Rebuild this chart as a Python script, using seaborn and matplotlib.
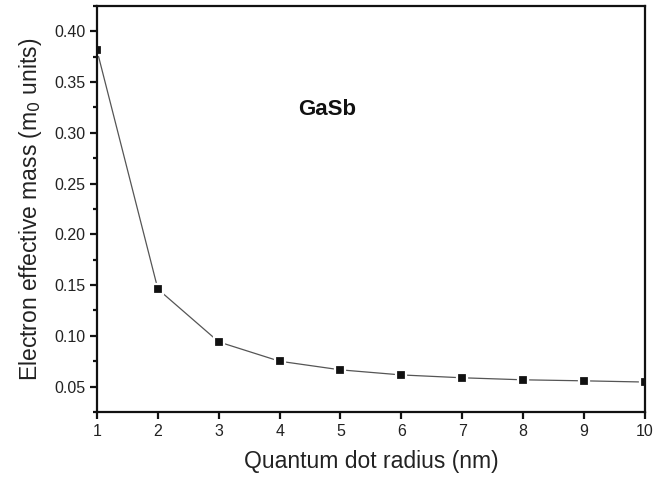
import matplotlib
matplotlib.use("Agg")
import matplotlib.pyplot as plt
import seaborn as sns
import pandas as pd
from matplotlib.ticker import MultipleLocator

radius = [1, 2, 3, 4, 5, 6, 7, 8, 9, 10]
mass = [0.381, 0.146, 0.094, 0.075, 0.0665, 0.0615, 0.0587, 0.0567, 0.0557, 0.0545]
xticks = [1, 2, 3, 4, 5, 6, 7, 8, 9, 10]
yticks = [0.05, 0.10, 0.15, 0.20, 0.25, 0.30, 0.35, 0.40]

df = pd.DataFrame({"radius": radius, "mass": mass})

sns.set_theme(style="ticks")
plt.rcParams['font.family'] = ['Liberation Sans', 'DejaVu Sans']

fig = plt.figure(figsize=(6.71, 4.83), dpi=100)
ax = fig.add_axes([0.1446, 0.147, 0.8164, 0.841])

sns.lineplot(data=df, x="radius", y="mass", ax=ax, color="#555555", linewidth=0.9,
             marker="s", markersize=6.5, markerfacecolor="#111111",
             markeredgecolor="white", markeredgewidth=1.6)

ax.set_xlim(1, 10)
ax.set_ylim(0.025, 0.425)
ax.set_xticks(xticks)
ax.set_xticklabels([str(v) for v in xticks])
ax.set_yticks(yticks)
ax.set_yticklabels([f"{v:.2f}" for v in yticks])
ax.yaxis.set_minor_locator(MultipleLocator(0.025))

for s in ax.spines.values():
    s.set_linewidth(1.6)
    s.set_color("#111111")
ax.tick_params(axis="both", which="major", direction="out", length=5, width=1.6,
               labelsize=11.5, colors="#111111", labelcolor="#222222")
ax.tick_params(axis="y", which="minor", direction="out", length=3, width=1.6, colors="#111111")
ax.tick_params(top=False, right=False)

ax.set_xlabel("Quantum dot radius (nm)", fontsize=16.5, color="#222222", labelpad=8)
ax.set_ylabel(r"Electron effective mass (m$_0$ units)", fontsize=16.5, color="#222222", labelpad=7)

ax.text(4.78, 0.323, "GaSb", fontsize=16, fontweight="bold",
        ha="center", va="center", color="#111111")

fig.savefig("out.png", dpi=100)
